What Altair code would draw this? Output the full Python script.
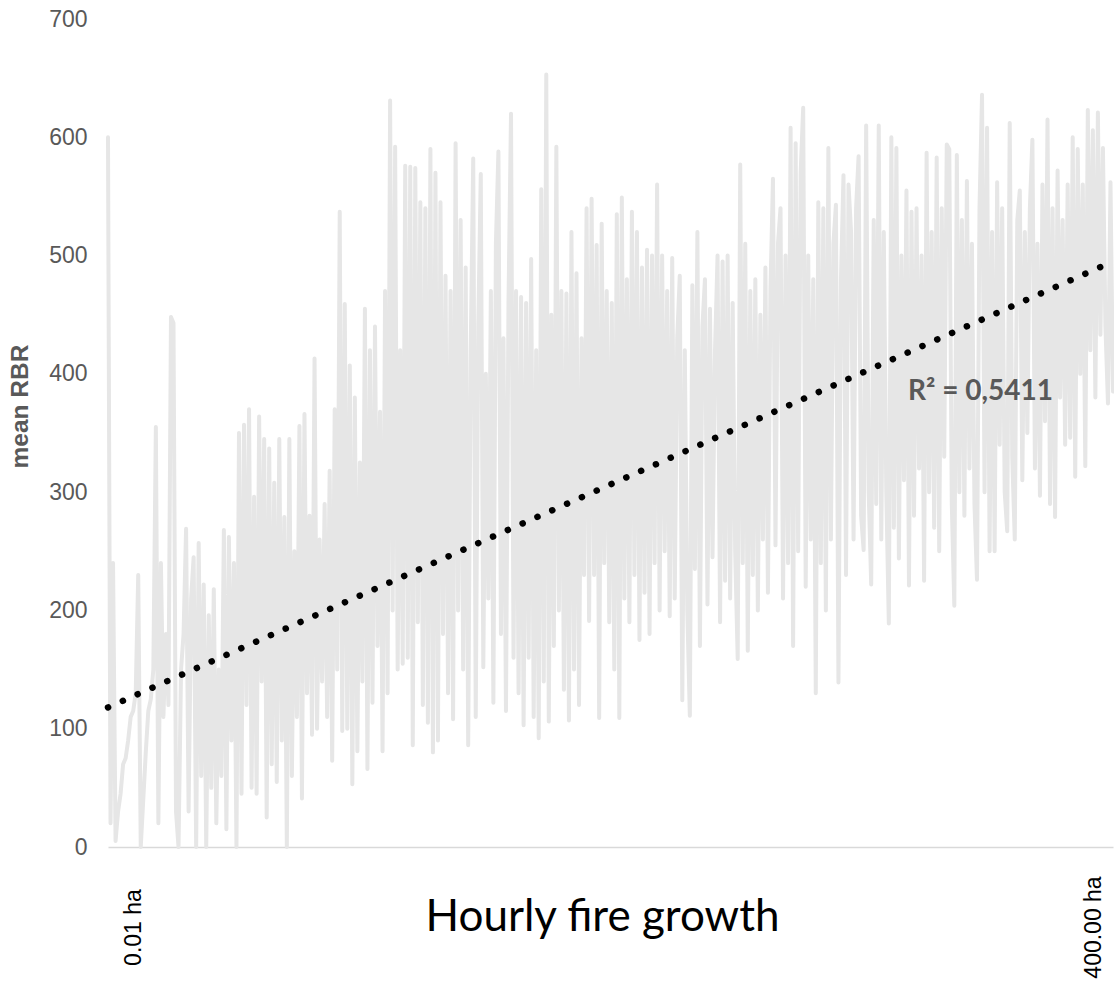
import altair as alt
import pandas as pd

# Mean RBR per hourly growth step, ordered from smallest (0.01 ha) to largest (400 ha) growth
rbr_small = [
    600, 20, 240, 5, 30, 45, 70, 75, 90, 110, 115, 130, 230, 0, 40, 80, 115, 125,
    150, 355, 20, 240, 110, 180, 120, 448, 443, 30, 0, 150, 180, 269, 30, 210, 245,
    0, 257, 60, 222, 0, 196, 50, 218, 20, 150, 60, 268, 15, 262,
]
rbr_low = [
    90, 240, 0, 350, 45, 357, 120, 370, 50, 296, 45, 364, 140, 345, 25, 337, 70,
    308, 55, 345, 90, 279, 0, 345, 60, 250, 110, 356, 41, 366, 130, 280, 95, 413,
    100, 260, 140, 290, 110, 318, 73, 370, 150, 537, 98, 459,
]
rbr_mid = [
    100, 407, 53, 380, 81, 325, 140, 455, 66, 420, 122, 440, 170, 368, 81, 470, 130,
    631, 200, 592, 150, 420, 155, 576, 160, 575, 86, 574, 190, 545, 120, 540, 105,
    590, 80, 570, 90, 545, 180, 483, 130, 470, 108, 595, 200, 530, 150, 490, 86, 420,
    582, 110, 440, 569, 152, 400, 210, 470, 122, 510, 588, 180, 430, 115, 460, 620,
    160, 470, 130, 465, 103, 460, 160, 497, 110, 420, 92, 556, 140, 653, 106, 450,
    170, 592, 200, 470, 133, 468, 107, 520, 150, 485, 120, 430, 230, 540, 191,
]
rbr_high = [
    548, 230, 509, 109, 527, 240, 470, 190, 460, 150, 535, 109, 549, 210, 480, 190,
    537, 230, 520, 175, 490, 215, 505, 180, 500, 240, 560, 200, 500, 250, 470, 195,
    498, 210, 430, 483, 124, 420, 200, 111, 475, 235, 520, 170, 440, 480, 205, 455,
    245, 420, 500, 190, 495, 225, 500, 210, 460, 250, 159, 577, 240, 510, 166, 470,
    230, 480, 200, 450, 260, 490, 215, 470, 565, 255, 510, 540, 210, 500, 240, 608,
    170, 595, 250, 570, 625, 220, 500, 260, 480, 130, 545, 240, 540, 200, 591, 260,
    510, 543, 139, 480, 568, 230, 560,
]
rbr_top = [
    520, 260, 540, 584, 280, 251, 610, 300, 222, 530, 290, 610, 260, 520, 300, 189,
    600, 270, 591, 244, 500, 310, 555, 221, 537, 280, 540, 320, 500, 225, 587, 300,
    520, 270, 583, 250, 540, 330, 594, 590, 290, 204, 585, 300, 530, 280, 563, 320,
    510, 290, 226, 540, 636, 300, 608, 250, 520, 250, 562, 340, 540, 300, 267, 612,
    330, 260, 530, 555, 310, 520, 350, 540, 598, 320, 510, 297, 560, 360, 615, 290,
    540, 279, 572, 380, 530, 340, 560, 346, 600, 313, 590, 400, 560, 322, 623, 420,
    606, 380, 621, 433, 591, 440, 375, 562, 385,
]
rbr = rbr_small + rbr_low + rbr_mid + rbr_high + rbr_top

# Linear trend (start, end) and its fit
trend_ends = [118, 495]
r2_label = "R² = 0,5411"
x_labels = ["0.01 ha", "400.00 ha"]

n = len(rbr)
last = n - 1
series = pd.DataFrame({"step": list(range(n)), "rbr": rbr})
trend = pd.DataFrame({"step": [0, last], "rbr": trend_ends})
note = pd.DataFrame({"label": [r2_label]})

label_steps = [0.025 * last, 0.981 * last]
label_expr = f"datum.value < {last / 2} ? '{x_labels[0]}' : '{x_labels[1]}'"

x_scale = alt.Scale(domain=[0, last], nice=False, zero=False)
y_scale = alt.Scale(domain=[0, 700], nice=False)

x_axis = alt.Axis(
    values=label_steps,
    labelExpr=label_expr,
    labelAngle=270,
    labelAlign="center",
    labelBaseline="middle",
    labelPadding=80,
    labelFont="Liberation Sans",
    labelFontSize=23,
    labelColor="#000000",
    labelFlush=False,
    labelOverlap=False,
    ticks=False,
    tickSize=0,
    grid=False,
    domain=True,
    domainColor="#d9d9d9",
    domainWidth=1.5,
    title="Hourly fire growth",
    titleFont="Lato",
    titleFontSize=44,
    titleFontWeight="normal",
    titleColor="#000000",
    titleX=494,
    titleY=83,
    titleAlign="center",
    titleBaseline="alphabetic",
)
y_axis = alt.Axis(
    values=list(range(0, 701, 100)),
    labelFont="Liberation Sans",
    labelFontSize=23,
    labelColor="#595959",
    labelPadding=21,
    ticks=False,
    tickSize=0,
    grid=False,
    domain=False,
    title="mean RBR",
    titleFont="Liberation Sans",
    titleFontSize=24.5,
    titleFontWeight="bold",
    titleColor="#595959",
    titleAngle=270,
    titleX=-88,
    titleY=387,
    titleAlign="center",
    titleBaseline="middle",
)

growth = alt.Chart(series).mark_line(
    color="#e6e6e6", strokeWidth=4, strokeJoin="round", strokeCap="round"
).encode(
    x=alt.X("step:Q", scale=x_scale, axis=x_axis),
    y=alt.Y("rbr:Q", scale=y_scale, axis=y_axis),
)

fit = alt.Chart(trend).mark_line(
    color="#000000", strokeWidth=6.5, strokeDash=[0.1, 16.1], strokeCap="round"
).encode(
    x=alt.X("step:Q", scale=x_scale),
    y=alt.Y("rbr:Q", scale=y_scale),
)

r2 = alt.Chart(note).mark_text(
    font="Lato", fontSize=28, fontWeight="bold", color="#595959",
    align="left", baseline="alphabetic",
).encode(
    x=alt.value(800),
    y=alt.value(381),
    text="label:N",
)

chart = alt.layer(growth, fit, r2).properties(
    width=1005,
    height=828,
    padding={"left": 108, "top": 19, "right": 1, "bottom": 136},
    autosize=alt.AutoSizeParams(type="none"),
).configure_view(stroke=None)

chart.save("out.html", embed_options={"renderer": "svg", "actions": False})
